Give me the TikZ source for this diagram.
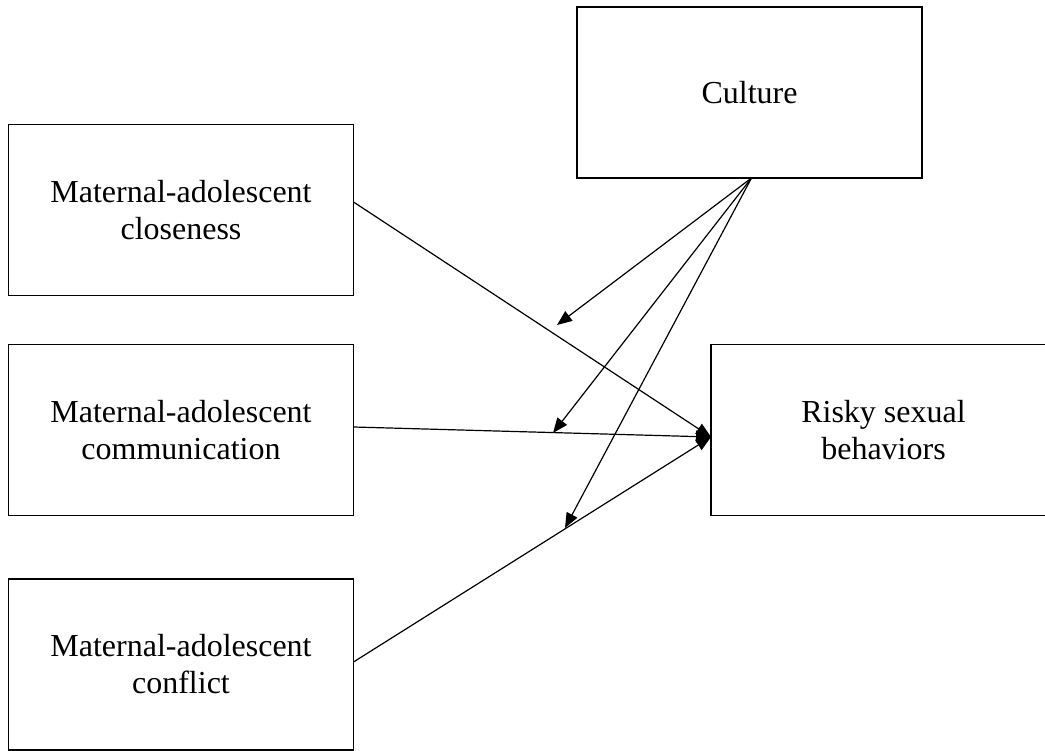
\documentclass[tikz,border=0pt]{standalone}
\usepackage{fontspec}
\setmainfont{Liberation Serif}
\usetikzlibrary{arrows.meta}
\tikzset{
  boxnode/.style={draw=black, line width=1.2pt, fill=white, minimum width=345pt, minimum height=171pt,
    inner sep=0pt, outer sep=0pt, align=center, font=\fontsize{32}{37}\selectfont},
  link/.style={draw=black, line width=1.2pt, -{Triangle[length=15pt,width=12pt]}}
}
\begin{document}
\begin{tikzpicture}[x=1pt,y=-1pt]
\useasboundingbox (0,0) rectangle (1045,751);
\clip (0,0) rectangle (1045,751);
\fill[white] (0,0) rectangle (1045,751);
\node[boxnode] (culture) at (749.5,92.5) {Culture};
\node[boxnode] (close) at (181,210) {Maternal-adolescent\\closeness};
\node[boxnode] (comm) at (181,430) {Maternal-adolescent\\communication};
\node[boxnode] (confl) at (181,664.5) {Maternal-adolescent\\conflict};
\node[boxnode] (risky) at (883.5,430) {Risky sexual\\behaviors};
\coordinate (tip) at (711,437);
\coordinate (m1) at (557,325);
\coordinate (m2) at (553,433);
\coordinate (m3) at (565,528);
\draw[link] ([yshift=8pt]close.east) -- (tip);
\draw[link] ([yshift=3pt]comm.east) -- (tip);
\draw[link] ([yshift=2.5pt]confl.east) -- (tip);
\draw[link] ([xshift=2pt]culture.south) -- (m1);
\draw[link] ([xshift=2pt]culture.south) -- (m2);
\draw[link] ([xshift=2pt]culture.south) -- (m3);
\end{tikzpicture}
\end{document}
